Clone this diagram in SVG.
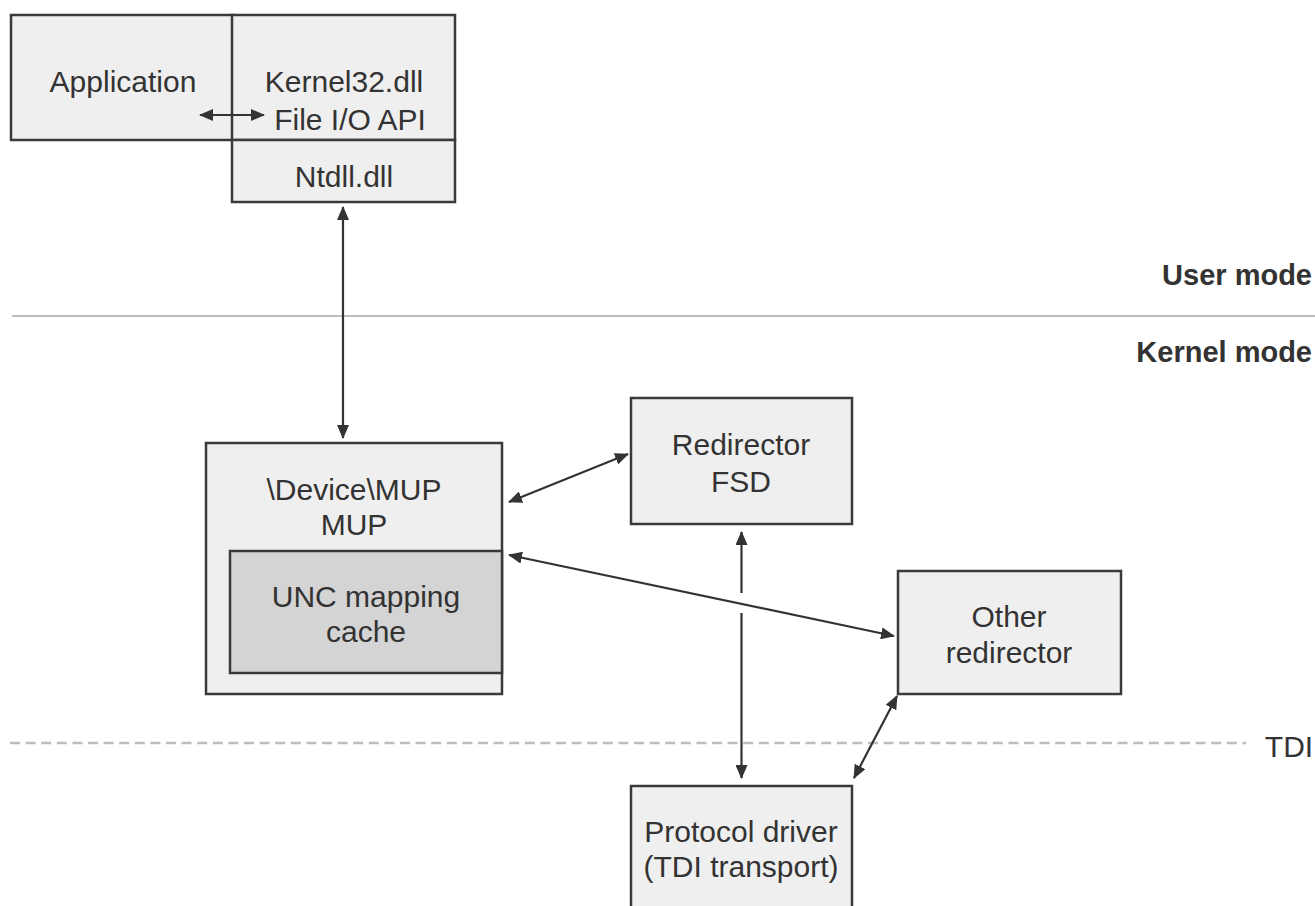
<svg xmlns="http://www.w3.org/2000/svg" width="1315" height="906" viewBox="0 0 1315 906">
<style>
.box{fill:#efefef;stroke:#3a3a3a;stroke-width:2.5}
.cache{fill:#d4d4d4;stroke:#3a3a3a;stroke-width:2.5}
.t{font-family:"Liberation Sans",Arial,sans-serif;font-size:30px;fill:#333;text-anchor:middle}
.b{font-family:"Liberation Sans",Arial,sans-serif;font-size:29px;font-weight:bold;fill:#333;text-anchor:end}
.conn{stroke:#333;stroke-width:2.2;fill:none;marker-start:url(#ah);marker-end:url(#ah)}
</style>
<defs>
<marker id="ah" markerUnits="userSpaceOnUse" markerWidth="14" markerHeight="12" refX="13" refY="6" orient="auto-start-reverse">
<path d="M0,0 L14,6 L0,12 z" fill="#333"/>
</marker>
</defs>
<rect width="1315" height="906" fill="#ffffff"/>
<g id="separators">
<line x1="12" y1="316" x2="1315" y2="316" stroke="#bdbdbd" stroke-width="2"/>
<line x1="10" y1="743" x2="1246" y2="743" stroke="#bdbdbd" stroke-width="2.5" stroke-dasharray="10,5.6"/>
<text class="b" x="1312" y="285">User mode</text>
<text class="b" x="1312" y="362">Kernel mode</text>
<text class="t" x="1289" y="757">TDI</text>
</g>
<g id="application">
<rect class="box" x="11" y="15" width="222" height="125"/>
<text class="t" x="123" y="92">Application</text>
</g>
<g id="kernel32">
<rect class="box" x="232" y="15" width="223" height="125"/>
<text class="t" x="344" y="92">Kernel32.dll</text>
<text class="t" x="350" y="130">File I/O API</text>
</g>
<g id="ntdll">
<rect class="box" x="232" y="140" width="223" height="62"/>
<text class="t" x="344" y="187">Ntdll.dll</text>
</g>
<g id="mup">
<rect class="box" x="206" y="443" width="296" height="251"/>
<text class="t" x="354" y="500">\Device\MUP</text>
<text class="t" x="354" y="535">MUP</text>
</g>
<g id="unc-cache">
<rect class="cache" x="230" y="551" width="272" height="122"/>
<text class="t" x="366" y="607">UNC mapping</text>
<text class="t" x="366" y="642">cache</text>
</g>
<g id="redirector-fsd">
<rect class="box" x="631" y="398" width="221" height="126"/>
<text class="t" x="741" y="455">Redirector</text>
<text class="t" x="741" y="492">FSD</text>
</g>
<g id="other-redirector">
<rect class="box" x="898" y="571" width="223" height="123"/>
<text class="t" x="1009" y="627">Other</text>
<text class="t" x="1009" y="663">redirector</text>
</g>
<g id="protocol-driver">
<rect class="box" x="631" y="786" width="221" height="140"/>
<text class="t" x="741" y="842">Protocol driver</text>
<text class="t" x="741" y="877">(TDI transport)</text>
</g>
<g id="connectors">
<line class="conn" x1="200" y1="115" x2="264" y2="115"/>
<line class="conn" x1="343" y1="207" x2="343" y2="438"/>
<line class="conn" x1="509" y1="502" x2="628" y2="454"/>
<line class="conn" x1="509" y1="555" x2="894" y2="636"/>
<path d="M741.5,532 L741.5,593 M741.5,613 L741.5,778" stroke="#333" stroke-width="2.2" fill="none" marker-start="url(#ah)" marker-end="url(#ah)"/>
<line class="conn" x1="897" y1="696" x2="854" y2="778"/>
</g>
</svg>
